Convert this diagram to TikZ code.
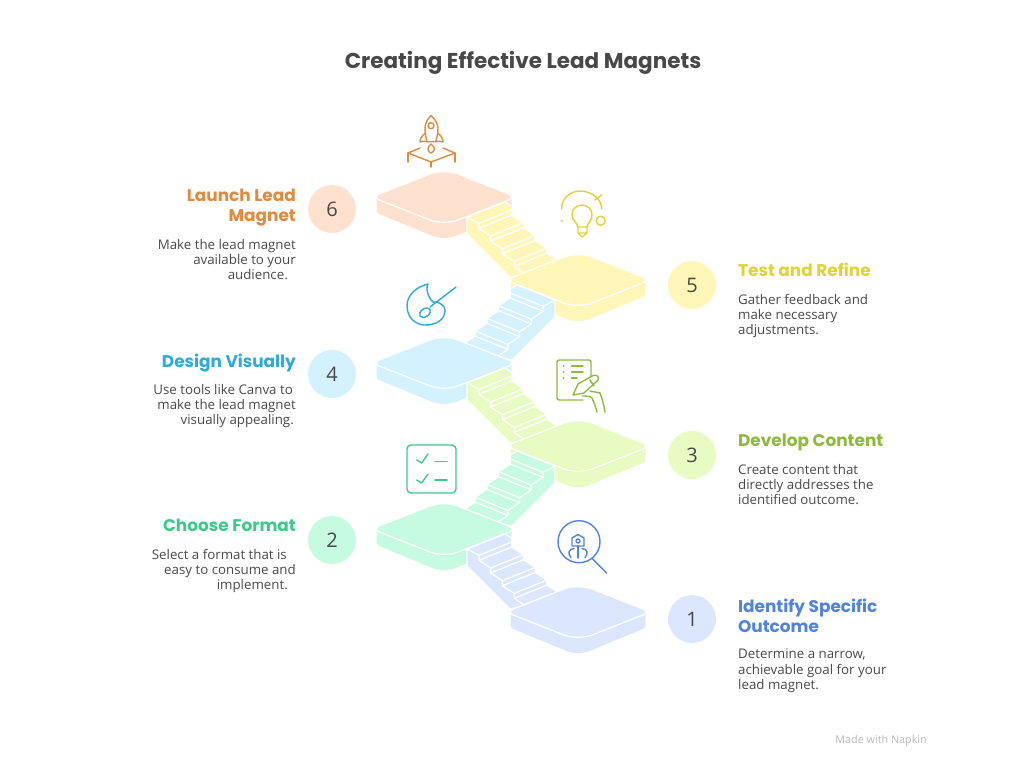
\documentclass[tikz,border=0pt]{standalone}
\usepackage{fontspec}
\setmainfont{Open Sans}
\newfontfamily\headfont{Poppins}
\usetikzlibrary{positioning}
\definecolor{myorange}{RGB}{224, 138, 62}
\definecolor{myyellow}{RGB}{226, 210, 50}
\definecolor{mysky}{RGB}{44, 170, 217}
\definecolor{mylime}{RGB}{140, 186, 60}
\definecolor{mymint}{RGB}{62, 200, 140}
\definecolor{myblue}{RGB}{80, 130, 224}
\definecolor{mypeach}{RGB}{255, 225, 207}
\definecolor{mypale}{RGB}{255, 246, 184}
\definecolor{mycyan}{RGB}{211, 241, 255}
\definecolor{mygreen}{RGB}{232, 251, 195}
\definecolor{mymist}{RGB}{198, 251, 226}
\definecolor{myperi}{RGB}{220, 231, 253}
\definecolor{mytext}{RGB}{72, 72, 72}

% #1 centre, #2 colour
\newcommand{\platform}[2]{
\begin{scope}[shift={#1}]
\fill[#2] (-67.5,0) -- (-67.5,14) .. controls (-67.5,15.5) and (-67,16) .. (-66,16.5) -- (-14,38) .. controls (-6,42) and (6,42) .. (14,38) -- (66,16.5) .. controls (67,16) and (67.5,15.5) .. (67.5,14) -- (67.5,0) -- cycle;
\draw[white, line width = 1.2pt, fill = #2] (-66,-2.5) -- (-14,-23) .. controls (-6,-26) and (6,-26) .. (14,-23) -- (66,-2.5) .. controls (68.5,-1.5) and (68.5,1.5) .. (66,2.5) -- (14,23) .. controls (6,26) and (-6,26) .. (-14,23) -- (-66,2.5) .. controls (-68.5,1.5) and (-68.5,-1.5) .. cycle;
\end{scope}
}

% #1 upper platform centre, #2 xscale, #3 colour
\newcommand{\stairs}[3]{
\begin{scope}[shift={#1}, xscale=#2]
\draw[white, line width = 1.2pt, line join = round, fill = #3] (23,20) -- (61,5) -- (67.7,9) -- (67.7,18) -- (79.4,25.7) -- (79.4,30.7) -- (91.1,38.4) -- (91.1,43.4) -- (102.8,51.1) -- (102.8,56.1) -- (114.5,63.8) -- (114.5,70) -- (66,80) -- (23,37) -- cycle;
\draw[white, line width = 1.2pt, line join = round] (23,20) -- (35,26.3) -- (35,31.3) -- (46.7,39) -- (46.7,44) -- (58.4,51.7) -- (58.4,56.7) -- (70.1,64.4) -- (70.1,69.4) -- (81.8,77.1);
\foreach \k in {0,...,3} {
\draw[white, line width = 1.2pt] (35+11.7*\k, 26.3+12.7*\k) -- +(32.7,-13.3);
\draw[white, line width = 1.2pt] (35+11.7*\k, 31.3+12.7*\k) -- +(32.7,-13.3);
}
\end{scope}
}

\begin{document}
\begin{tikzpicture}[
    x = 1pt, y = -1pt,
    numdisc/.style = {circle, minimum size = 48pt, inner sep = 0pt, text = mytext, font = \fontsize{20}{20}\selectfont},
    headl/.style = {anchor = north east, align = right, inner sep = 0pt, font = \headfont\bfseries\fontsize{16.9}{20.5}\selectfont},
    headr/.style = {anchor = north west, align = left, inner sep = 0pt, font = \headfont\bfseries\fontsize{16.9}{20.5}\selectfont},
    bodyl/.style = {anchor = north east, align = right, inner sep = 0pt, text = mytext, font = \fontsize{13.3}{15.2}\selectfont},
    bodyr/.style = {anchor = north west, align = left, inner sep = 0pt, text = mytext, font = \fontsize{13.3}{15.2}\selectfont},
    ico/.style = {line width = 1.4pt, line join = round, line cap = round},
]

\useasboundingbox (0,0) rectangle (1024,768);

\platform{(444,197)}{mypeach}
\stairs{(444,197)}{1}{mypale}
\platform{(578,280)}{mypale}
\stairs{(578,280)}{-1}{mycyan}
\platform{(444,363)}{mycyan}
\stairs{(444,363)}{1}{mygreen}
\platform{(578,446)}{mygreen}
\stairs{(578,446)}{-1}{mymist}
\platform{(444,529)}{mymist}
\stairs{(444,529)}{1}{myperi}
\platform{(578,612)}{myperi}

\node[text = mytext, font = \headfont\bfseries\fontsize{21.5}{24}\selectfont] (title) at (523,63) {Creating Effective Lead Magnets};

% steps
\node[numdisc, fill = mypeach] (disc6) at (332,209) {6};
\node[numdisc, fill = mypale] (disc5) at (692,285) {5};
\node[numdisc, fill = mycyan] (disc4) at (332,374) {4};
\node[numdisc, fill = mygreen] (disc3) at (692,455) {3};
\node[numdisc, fill = mymist] (disc2) at (332,540) {2};
\node[numdisc, fill = myperi] (disc1) at (692,619) {1};

\node[headl, text = myorange] (head6) at (296,188.5) {Launch Lead\\Magnet};
\node[bodyl] (body6) at (296,239) {Make the lead magnet\\available to your\hspace*{2.5pt}\\audience.\hspace*{8pt}};
\node[headr, text = myyellow] (head5) at (738,263) {Test and Refine};
\node[bodyr] (body5) at (738,294) {Gather feedback and\\make necessary\\adjustments.};
\node[headl, text = mysky] (head4) at (296,353.5) {Design Visually};
\node[bodyl] (body4) at (296,384) {Use tools like Canva to\hspace*{3pt}\\make the lead magnet\\visually appealing.\hspace*{2pt}};
\node[headr, text = mylime] (head3) at (738,433.5) {Develop Content};
\node[bodyr] (body3) at (738,464) {Create content that\\directly addresses the\\identified outcome.};
\node[headl, text = mymint] (head2) at (296,518.5) {Choose Format};
\node[bodyl] (body2) at (296,549) {Select a format that is\hspace*{9pt}\\easy to consume and\\implement.\hspace*{8pt}};
\node[headr, text = myblue] (head1) at (738,598.5) {Identify Specific\\Outcome};
\node[bodyr] (body1) at (738,649) {Determine a narrow,\\achievable goal for your\\lead magnet.};

\node[text = black!28, inner sep = 0pt, font = \fontsize{10.8}{10.8}\selectfont, anchor = east] (credit) at (927,741) {Made with Napkin};

% rocket
\draw[ico, myorange] (431,115.7) .. controls (427,119) and (425,124) .. (425,128) .. controls (425,133) and (426,138) .. (427,141.7) -- (435.5,141.7) .. controls (437,138) and (438,133) .. (438,128) .. controls (438,124) and (435,119) .. (431,115.7) -- cycle;
\draw[ico, myorange] (431,125.7) circle (3);
\draw[ico, myorange] (425.5,133) .. controls (421,136) and (420,140) .. (420,142) .. controls (423,141) and (425,141) .. (427,141.7);
\draw[ico, myorange] (437.5,133) .. controls (442,136) and (443,140) .. (443,142) .. controls (440,141) and (438,141) .. (435.5,141.7);
\draw[ico, myorange] (431,144) .. controls (429,146) and (428,147) .. (428,149) .. controls (428,151) and (430,153) .. (431,153) .. controls (432,153) and (434.5,151) .. (434.5,149) .. controls (434.5,147) and (433,146) .. (431,144) -- cycle;
\draw[ico, myorange] (420,148) -- (408,153) -- (431,162) -- (455,153) -- (443,148);
\draw[ico, myorange] (408,153) -- (408,162) (455,153) -- (455,162) (431,162) -- (431,167);

% bulb
\draw[ico, myyellow] (561.7,209) .. controls (561,199) and (570,191) .. (580,191) .. controls (591,191) and (602,199) .. (601.7,209);
\draw[ico, myyellow] (595,200) -- (601.7,195);
\fill[myyellow] (561.7,220.7) circle (1.2);
\draw[ico, myyellow] (600.7,220.7) circle (4.5);
\draw[ico, myyellow] (578,227) .. controls (577,222) and (572,221) .. (572,214.5) .. controls (572,209) and (577,205) .. (582,205) .. controls (587,205) and (592,209) .. (592,214.5) .. controls (592,221) and (588,222) .. (587,227) -- cycle;
\draw[ico, myyellow] (578,227) -- (578,233) -- (582,237) -- (587,233) -- (587,227) (578,233) -- (587,233);

% palette
\draw[ico, mysky] (428,284) .. controls (416,287) and (407,295) .. (407,306) .. controls (407,317) and (415,325) .. (425,325) .. controls (436,325) and (445,320) .. (445,310) .. controls (445,306) and (440,303) .. (437,302) .. controls (434,303) and (432,302) .. (431,300) .. controls (429,296) and (425,291) .. (428,284) -- cycle;
\draw[ico, mysky] (456,287) -- (430,307);
\draw[ico, mysky, rotate around = {35:(425,312.7)}] (425,312.7) ellipse (6 and 4);

% document
\draw[ico, mylime] (583,400) -- (559,400) .. controls (558,400) and (557,399) .. (557,398) -- (557,362) .. controls (557,361) and (558,360) .. (559,360) -- (589,360) .. controls (590,360) and (591,361) .. (591,362) -- (591,376);
\draw[ico, mylime] (571.5,366) -- (583,366) (571.5,372) -- (583,372) (571.5,378) -- (577,378);
\fill[mylime] (563.5,366) circle (1) (563.5,372) circle (1) (563.5,378) circle (1);
\draw[ico, mylime] (573,395) -- (578,384) -- (592,376) .. controls (596,374) and (600,376) .. (598,380) -- (584,393) -- cycle;
\draw[ico, mylime] (590,380) -- (594,386);
\draw[ico, mylime] (590,391) -- (600,393) .. controls (602,398) and (604,405) .. (605,412);
\draw[ico, mylime] (582,396) .. controls (586,396) and (590,396) .. (592,398) .. controls (594,402) and (596,408) .. (597,412);

% checklist
\draw[ico, mymint, rounded corners = 4pt] (407,445) rectangle (456,493);
\draw[ico, mymint] (416.7,460) -- (421.7,463) -- (428,454);
\draw[ico, mymint] (435,461.7) -- (447,461.7);
\draw[ico, mymint] (416.7,480) -- (421.7,483) -- (428,474);
\draw[ico, mymint] (435,480) -- (447,480);

% magnifier
\draw[ico, myblue] (579,541.7) circle (21);
\draw[ico, myblue] (591.7,558) -- (606.7,573);
\draw[ico, myblue] (578,534.5) -- (584,538) -- (584,546) -- (572,546) -- (572,538) -- cycle;
\draw[ico, myblue] (578,541) circle (2);
\draw[ico, myblue] (578,546) -- (578,558);
\draw[ico, myblue] (574,548.5) .. controls (569,549) and (567,553) .. (571,557.5) (582,548.5) .. controls (587,549) and (589,553) .. (585,557.5);

\end{tikzpicture}
\end{document}
